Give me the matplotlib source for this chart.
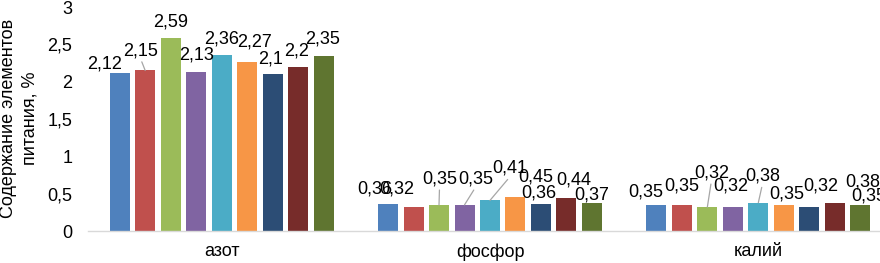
import matplotlib
matplotlib.use("Agg")
import matplotlib.pyplot as plt
import numpy as np

plt.rcParams['font.family'] = ['Liberation Sans', 'DejaVu Sans']

categories = ["азот", "фосфор", "калий"]
series_values = [
    [2.12, 0.36, 0.35],
    [2.15, 0.32, 0.35],
    [2.59, 0.35, 0.32],
    [2.13, 0.35, 0.32],
    [2.36, 0.41, 0.38],
    [2.27, 0.45, 0.35],
    [2.10, 0.36, 0.32],
    [2.20, 0.44, 0.38],
    [2.35, 0.37, 0.35],
]
colors = ["#4F81BD", "#C0504D", "#9BBB59", "#8064A2", "#4BACC6",
          "#F79646", "#2C4D75", "#772C2A", "#5F7530"]
y_ticks = [0, 0.5, 1, 1.5, 2, 2.5, 3]
y_label = "Содержание элементов\nпитания, %"

# label offsets in pixels (dx, dy above bar top to baseline), per category, per series
label_dx = [
    [-15, -4.5, 0, 0, 0, 7.5, -2, -1.5, -1],
    [-13, -16.5, 0.5, 11, 20, 20, -2, 7.5, 0],
    [-11, 0, 4, -2.5, 4, 2.5, 11, 27.5, 8],
]
label_dy = [
    [4.3, 15.4, 11.5, 12, 11.4, 14.7, 10.8, 11.7, 12],
    [10.8, 13.8, 21.6, 21.6, 27.7, 15.7, 6.8, 14, 4],
    [8.2, 14.2, 29.8, 16.4, 22, 6, 16.4, 16.6, 4.2],
]
leaders = [
    [0, 1, 0, 0, 0, 0, 0, 0, 0],
    [0, 0, 1, 1, 1, 0, 0, 0, 0],
    [0, 0, 1, 0, 1, 0, 0, 0, 0],
]

W, H = 880, 263
FS = 13
fig = plt.figure(figsize=(W / 100, H / 100), dpi=100)
ax = fig.add_axes([87.5 / W, (H - 231) / H, 805 / W, 224 / H])

n = len(series_values)
pitch = 0.095
width = 0.0745
x = np.arange(len(categories))
for i, vals in enumerate(series_values):
    xs = x + (i - (n - 1) / 2) * pitch
    ax.bar(xs, vals, width=width, color=colors[i], zorder=2)
    for c, (xx, v) in enumerate(zip(xs, vals)):
        txt = f"{v:.2f}".rstrip("0").rstrip(".").replace(".", ",")
        props = None
        if leaders[c][i]:
            props = dict(arrowstyle='-', color='#A6A6A6', lw=0.9,
                         shrinkA=0, shrinkB=0, relpos=(0.5, 0.0))
        ax.annotate(txt, xy=(xx, v),
                    xytext=(label_dx[c][i], label_dy[c][i]),
                    textcoords='offset pixels', ha='center', va='baseline',
                    fontsize=FS, color='#000000', arrowprops=props,
                    annotation_clip=False, zorder=3)

ax.set_xlim(-0.5, len(categories) - 0.5)
ax.set_ylim(0, 3)
ax.set_yticks(y_ticks)
ax.set_yticklabels([f"{t:g}".replace(".", ",") for t in y_ticks], fontsize=FS)
ax.set_xticks(x)
ax.set_xticklabels(categories, fontsize=FS)
ax.tick_params(axis='both', length=0)
ax.tick_params(axis='y', pad=11)
ax.tick_params(axis='x', pad=9)
for s in ['top', 'right', 'left']:
    ax.spines[s].set_visible(False)
ax.spines['bottom'].set_color('#D9D9D9')
ax.spines['bottom'].set_linewidth(1)

fig.text(19.5 / W, 1 - 118 / H, y_label, rotation=90, ha='center', va='center',
         fontsize=FS, multialignment='center', linespacing=1.38)

fig.savefig("out.png", dpi=100)
